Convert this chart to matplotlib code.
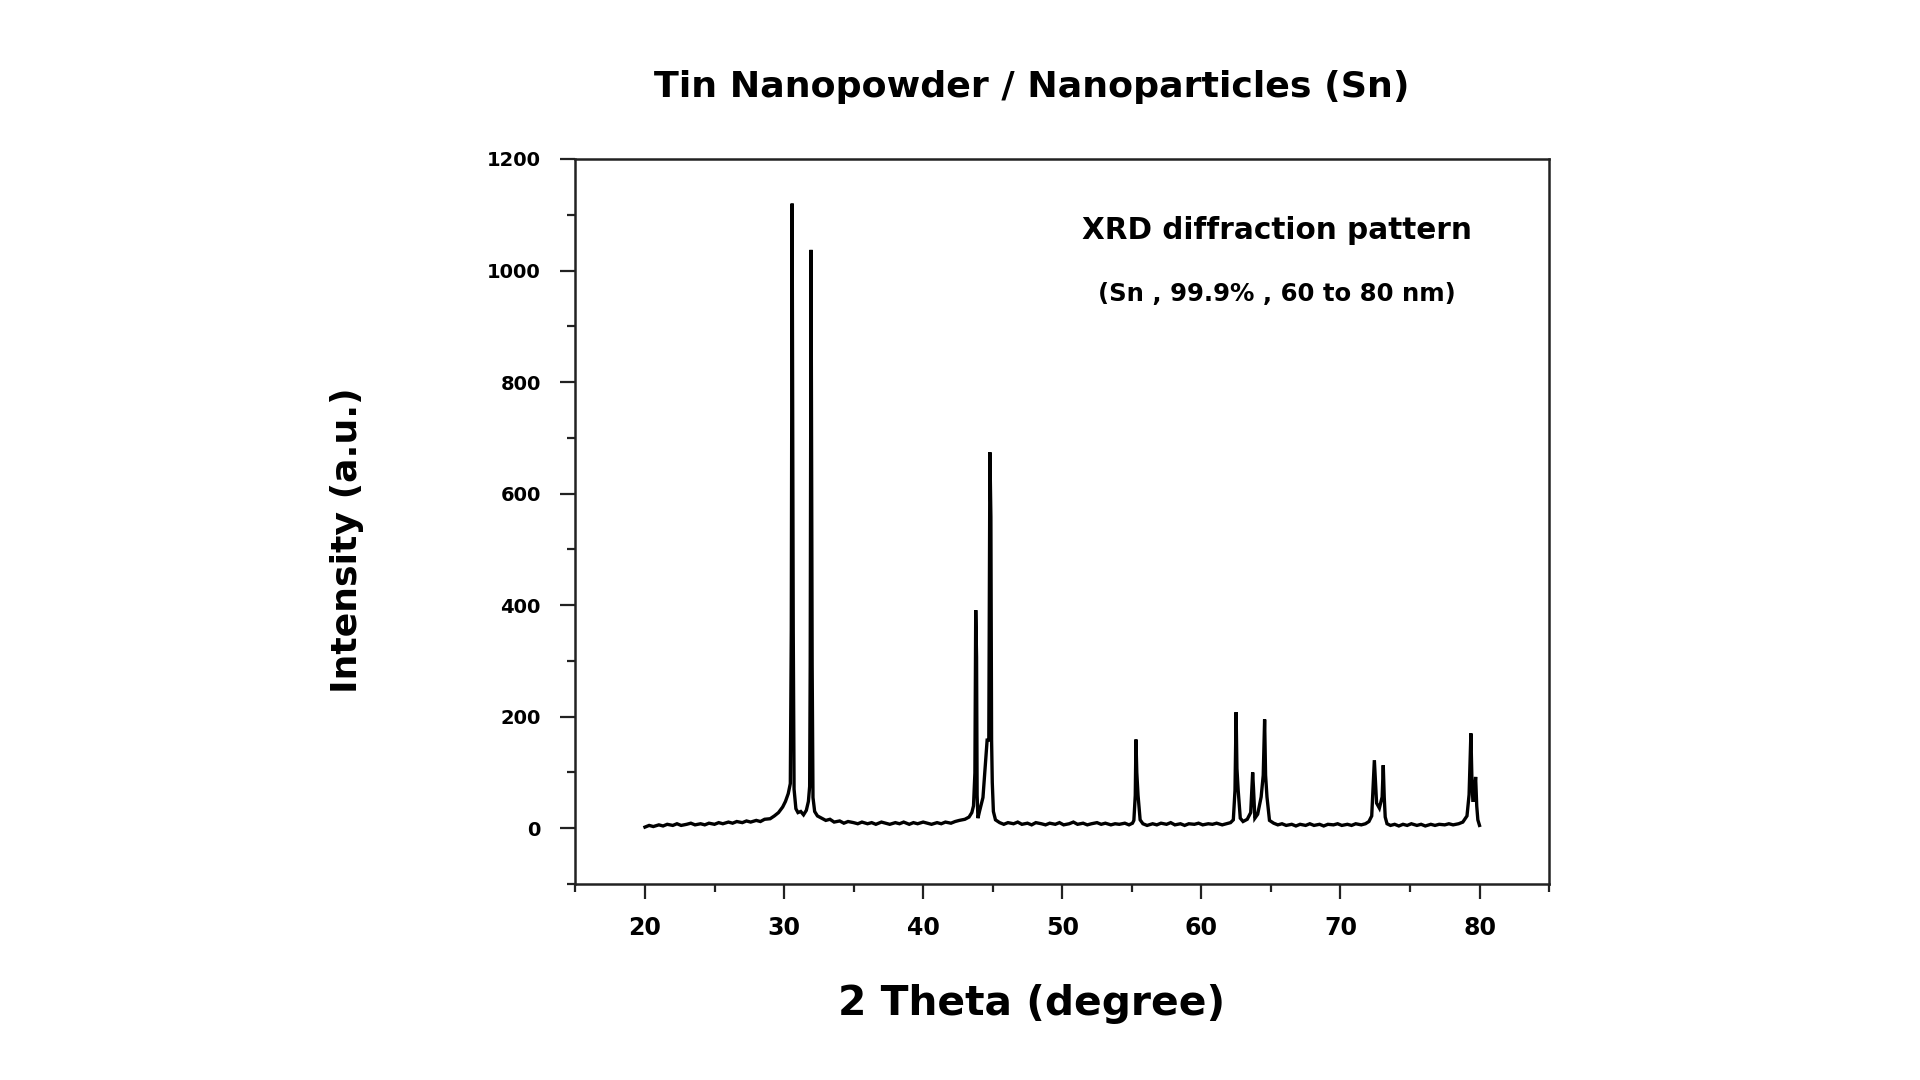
import matplotlib.pyplot as plt
from matplotlib.ticker import MultipleLocator

# XRD trace: (2 theta in degrees, intensity in a.u.)
trace = [
    (20.0, 2), (20.3, 5), (20.6, 3), (21.0, 6), (21.3, 4), (21.6, 7),
    (22.0, 5), (22.3, 8), (22.6, 5), (23.0, 7), (23.3, 9), (23.6, 6),
    (24.0, 8), (24.3, 6), (24.6, 9), (25.0, 7), (25.3, 10), (25.6, 8),
    (26.0, 11), (26.3, 9), (26.6, 12), (27.0, 10), (27.3, 13), (27.6, 11),
    (28.0, 14), (28.3, 12), (28.6, 16), (29.0, 17), (29.3, 22), (29.6, 28),
    (29.9, 38), (30.1, 48), (30.3, 62),
    # peak ~30.6
    (30.45, 80), (30.52, 355), (30.58, 1120), (30.62, 708), (30.66, 355),
    (30.72, 70), (30.85, 35), (31.0, 28), (31.2, 30), (31.4, 24), (31.6, 32),
    # peak ~32.0
    (31.75, 48), (31.84, 75), (31.88, 292), (31.94, 1037), (31.98, 655),
    (32.02, 292), (32.08, 55), (32.2, 30), (32.4, 22), (32.7, 18), (33.0, 14),
    (33.3, 16), (33.6, 11), (34.0, 13), (34.3, 9), (34.6, 12), (35.0, 10),
    (35.3, 8), (35.6, 11), (36.0, 8), (36.3, 10), (36.6, 7), (37.0, 11),
    (37.3, 9), (37.6, 7), (38.0, 10), (38.3, 8), (38.6, 11), (39.0, 7),
    (39.3, 10), (39.6, 8), (40.0, 11), (40.3, 9), (40.6, 7), (41.0, 10),
    (41.3, 8), (41.6, 11), (42.0, 9), (42.3, 12), (42.6, 14), (43.0, 16),
    (43.3, 20), (43.5, 28), (43.62, 40),
    # peaks ~43.8 and ~44.9
    (43.72, 99), (43.78, 391), (43.84, 307), (43.88, 59), (43.94, 18),
    (44.05, 30), (44.3, 55), (44.6, 158), (44.72, 158), (44.8, 674),
    (44.87, 558), (44.92, 158), (44.97, 82), (45.05, 30), (45.2, 15),
    (45.5, 10), (45.8, 7), (46.1, 10), (46.5, 8), (46.8, 11), (47.1, 7),
    (47.5, 9), (47.8, 6), (48.1, 10), (48.5, 8), (48.8, 6), (49.1, 9),
    (49.5, 7), (49.8, 10), (50.1, 6), (50.5, 8), (50.8, 11), (51.1, 7),
    (51.5, 9), (51.8, 6), (52.1, 8), (52.5, 10), (52.8, 7), (53.1, 9),
    (53.5, 6), (53.8, 8), (54.1, 7), (54.5, 9), (54.8, 6), (55.05, 9),
    (55.15, 14),
    # peak ~55.3
    (55.25, 59), (55.3, 159), (55.36, 100), (55.45, 59), (55.6, 15),
    (55.8, 8), (56.1, 5), (56.5, 8), (56.8, 6), (57.1, 9), (57.5, 7),
    (57.8, 10), (58.1, 6), (58.5, 8), (58.8, 5), (59.1, 8), (59.5, 7),
    (59.8, 9), (60.1, 6), (60.5, 8), (60.8, 7), (61.1, 9), (61.5, 6),
    (61.8, 8), (62.1, 10), (62.3, 15),
    # peaks ~62.5, ~63.7, ~64.6
    (62.42, 68), (62.5, 208), (62.56, 107), (62.65, 68), (62.8, 18),
    (63.0, 12), (63.3, 16), (63.55, 28), (63.64, 72), (63.69, 100),
    (63.75, 72), (63.85, 18), (64.05, 25), (64.3, 56), (64.45, 95),
    (64.55, 195), (64.62, 95), (64.72, 56), (64.9, 14), (65.2, 9),
    (65.5, 6), (65.8, 8), (66.1, 5), (66.5, 7), (66.8, 4), (67.1, 7),
    (67.5, 5), (67.8, 8), (68.1, 5), (68.5, 7), (68.8, 4), (69.1, 7),
    (69.5, 6), (69.8, 8), (70.1, 5), (70.5, 7), (70.8, 5), (71.1, 8),
    (71.5, 6), (71.8, 8), (72.05, 12), (72.25, 22),
    # peaks ~72.4 and ~73.1
    (72.36, 80), (72.44, 122), (72.5, 92), (72.6, 45), (72.8, 36),
    (73.0, 56), (73.08, 113), (73.15, 56), (73.22, 20), (73.35, 8),
    (73.6, 5), (73.9, 7), (74.2, 4), (74.5, 7), (74.8, 5), (75.1, 8),
    (75.5, 5), (75.8, 7), (76.1, 4), (76.5, 7), (76.8, 5), (77.1, 7),
    (77.5, 6), (77.8, 8), (78.1, 6), (78.5, 8), (78.8, 11), (79.1, 22),
    # peaks ~79.4 and ~79.8
    (79.25, 60), (79.38, 170), (79.45, 92), (79.52, 50), (79.6, 50),
    (79.72, 92), (79.8, 40), (79.88, 15), (80.0, 5),
]
two_theta = [p[0] for p in trace]
intensity = [p[1] for p in trace]

x_ticks = [20, 30, 40, 50, 60, 70, 80]
y_ticks = [0, 200, 400, 600, 800, 1000, 1200]

FONT = ["DejaVu Sans"]

fig = plt.figure(figsize=(19.2, 10.8), dpi=100)
fig.patch.set_facecolor("white")
ax = fig.add_axes([0.2997, 0.1815, 0.5071, 0.6713])

ax.plot(two_theta, intensity, color="black", lw=2.4, solid_joinstyle="miter")

ax.set_xlim(15, 85)
ax.set_ylim(-100, 1200)
ax.set_xticks(x_ticks)
ax.set_yticks(y_ticks)
ax.xaxis.set_minor_locator(MultipleLocator(5))
ax.yaxis.set_minor_locator(MultipleLocator(100))

for side in ax.spines.values():
    side.set_linewidth(1.8)
    side.set_color("#222222")

ax.tick_params(which="major", direction="out", length=11, width=1.6,
               colors="#222222")
ax.tick_params(which="minor", direction="out", length=6, width=1.6,
               colors="#222222")
ax.tick_params(axis="x", pad=12)
ax.tick_params(axis="y", pad=14)
for lab in ax.get_yticklabels():
    lab.set_fontweight("bold")
    lab.set_fontfamily(FONT)
    lab.set_fontsize(14)
    lab.set_color("black")
for lab in ax.get_xticklabels():
    lab.set_fontweight("bold")
    lab.set_fontfamily(["Liberation Sans Narrow", "DejaVu Sans"])
    lab.set_fontsize(17)
    lab.set_color("black")

title = fig.text(0.5375, 0.919, "Tin Nanopowder / Nanoparticles (Sn)",
                 ha="center", va="center", fontsize=26, fontweight="bold",
                 family=FONT)
note1 = ax.text(0.72, 0.902, "XRD diffraction pattern", transform=ax.transAxes,
                ha="center", va="center", fontsize=22, fontweight="bold",
                family=FONT)
note2 = ax.text(0.72, 0.814, "(Sn , 99.9% , 60 to 80 nm)",
                transform=ax.transAxes, ha="center", va="center", fontsize=18,
                fontweight="bold", family=FONT)
ylab = fig.text(0.1807, 0.5, "Intensity (a.u.)", rotation=90, ha="center",
                va="center", fontsize=28, fontweight="bold", family=FONT)
xlab = fig.text(0.5375, 0.07, "2 Theta (degree)", ha="center", va="center",
                fontsize=30, fontweight="bold", family=FONT)

# scale each label so its rendered length matches the reference (pixels)
renderer = fig.canvas.get_renderer()
for t, target, vertical in [(title, 757, False), (note1, 389, False),
                            (note2, 359, False), (ylab, 306, True),
                            (xlab, 386, False)]:
    bb = t.get_window_extent(renderer)
    size = bb.height if vertical else bb.width
    t.set_fontsize(t.get_fontsize() * target / size)

fig.savefig("out.png", dpi=100, facecolor="white")
